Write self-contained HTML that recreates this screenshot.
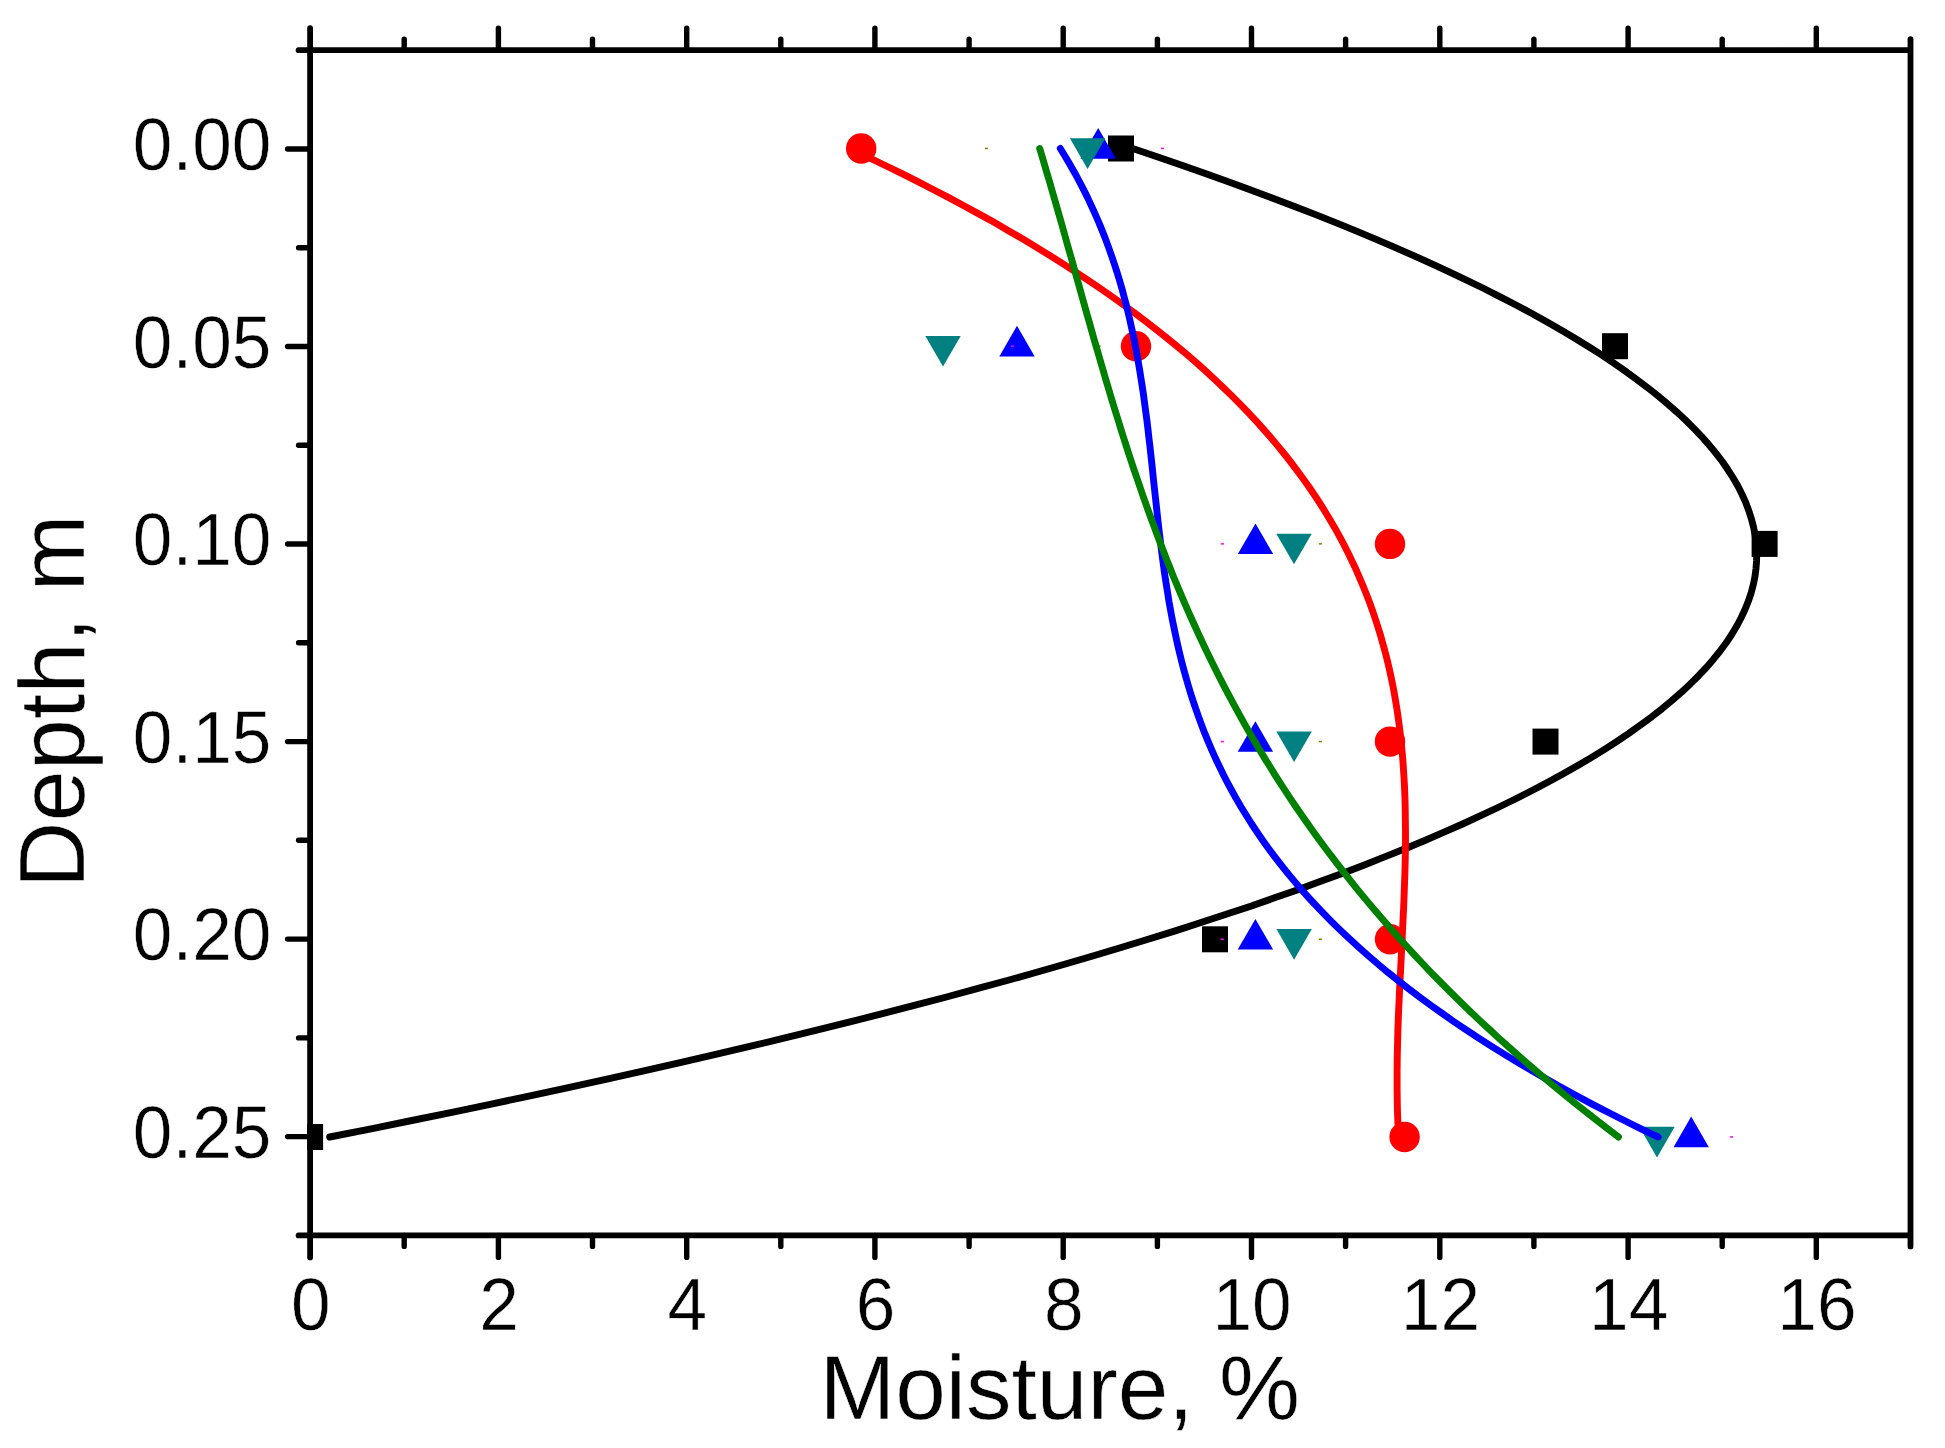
<!DOCTYPE html>
<html lang="en"><head><meta charset="utf-8"><title>Moisture vs Depth</title>
<style>html,body{margin:0;padding:0;background:#fff}svg{display:block}text{font-family:"Liberation Sans",Arial,Helvetica,sans-serif;fill:#000;stroke:#fff;stroke-width:0.5px}</style>
</head><body>
<svg width="1945" height="1448" viewBox="0 0 1945 1448">
<rect width="1945" height="1448" fill="#fff"/>
<defs><clipPath id="plot"><rect x="307.20" y="50.24" width="1606.18" height="1185.15"/></clipPath></defs>
<g id="markers" clip-path="url(#plot)">
<rect x="1161.0" y="147.7" width="3" height="1.5" fill="#ff00ff"/>
<rect x="1010.9" y="345.4" width="3" height="1.5" fill="#ff00ff"/>
<rect x="1220.9" y="543.1" width="3" height="1.5" fill="#ff00ff"/>
<rect x="1220.9" y="740.8" width="3" height="1.5" fill="#ff00ff"/>
<rect x="1220.9" y="938.5" width="3" height="1.5" fill="#ff00ff"/>
<rect x="1730.0" y="1136.2" width="3" height="1.5" fill="#ff00ff"/>
<rect x="984.9" y="147.7" width="3" height="1.5" fill="#808000"/>
<rect x="1097.7" y="345.4" width="3" height="1.5" fill="#808000"/>
<rect x="1318.9" y="543.1" width="3" height="1.5" fill="#808000"/>
<rect x="1318.9" y="740.8" width="3" height="1.5" fill="#808000"/>
<rect x="1318.9" y="938.5" width="3" height="1.5" fill="#808000"/>
<rect x="1108.0" y="135.5" width="26.0" height="26.0" fill="#000"/>
<rect x="1602.0" y="333.2" width="26.0" height="26.0" fill="#000"/>
<rect x="1751.6" y="530.9" width="26.0" height="26.0" fill="#000"/>
<rect x="1532.5" y="728.6" width="26.0" height="26.0" fill="#000"/>
<rect x="1202.0" y="926.3" width="26.0" height="26.0" fill="#000"/>
<rect x="297.1" y="1124.0" width="26.0" height="26.0" fill="#000"/>
<circle cx="861.2" cy="148.5" r="15.2" fill="#ff0000"/>
<circle cx="1136.0" cy="346.2" r="15.2" fill="#ff0000"/>
<circle cx="1390.0" cy="543.9" r="15.2" fill="#ff0000"/>
<circle cx="1390.0" cy="741.6" r="15.2" fill="#ff0000"/>
<circle cx="1390.0" cy="939.3" r="15.2" fill="#ff0000"/>
<circle cx="1404.6" cy="1137.0" r="15.2" fill="#ff0000"/>
<polygon points="1098.2,128.1 1115.9,158.7 1080.5,158.7" fill="#0000ff"/>
<polygon points="1017.0,325.8 1034.7,356.4 999.3,356.4" fill="#0000ff"/>
<polygon points="1255.5,523.5 1273.2,554.1 1237.8,554.1" fill="#0000ff"/>
<polygon points="1255.4,721.2 1273.1,751.8 1237.7,751.8" fill="#0000ff"/>
<polygon points="1255.4,918.9 1273.1,949.5 1237.7,949.5" fill="#0000ff"/>
<polygon points="1691.2,1116.6 1708.9,1147.2 1673.5,1147.2" fill="#0000ff"/>
<polygon points="1087.6,168.9 1105.3,138.3 1069.9,138.3" fill="#008080"/>
<polygon points="943.0,366.6 960.7,336.0 925.3,336.0" fill="#008080"/>
<polygon points="1294.0,564.3 1311.7,533.7 1276.3,533.7" fill="#008080"/>
<polygon points="1294.1,762.0 1311.8,731.4 1276.4,731.4" fill="#008080"/>
<polygon points="1294.1,959.7 1311.8,929.1 1276.4,929.1" fill="#008080"/>
<polygon points="1657.0,1157.4 1674.7,1126.8 1639.3,1126.8" fill="#008080"/>
<rect x="1010.9" y="345.4" width="3" height="1.5" fill="#ff00ff"/>
<rect x="1220.9" y="938.5" width="3" height="1.5" fill="#ff00ff"/>
</g>
<g id="curves" fill="none" stroke-width="6.9" stroke-linecap="round" stroke-linejoin="round">
<polyline points="1132.7,148.5 1157.1,156.7 1181.1,165.0 1204.6,173.2 1227.6,181.4 1250.1,189.7 1272.2,197.9 1293.9,206.2 1315.0,214.4 1335.7,222.6 1355.9,230.9 1375.6,239.1 1394.8,247.4 1413.6,255.6 1431.9,263.8 1449.7,272.1 1467.0,280.3 1483.8,288.5 1500.2,296.8 1516.0,305.0 1531.4,313.2 1546.2,321.5 1560.6,329.7 1574.5,338.0 1587.9,346.2 1600.8,354.4 1613.1,362.7 1625.0,370.9 1636.4,379.2 1647.3,387.4 1657.7,395.6 1667.5,403.9 1676.9,412.1 1685.7,420.3 1694.1,428.6 1701.9,436.8 1709.2,445.1 1716.0,453.3 1722.3,461.5 1728.0,469.8 1733.2,478.0 1738.0,486.2 1742.1,494.5 1745.8,502.7 1748.9,511.0 1751.5,519.2 1753.6,527.4 1755.2,535.7 1756.2,543.9 1756.7,552.1 1756.6,560.4 1756.0,568.6 1754.9,576.9 1753.2,585.1 1751.0,593.3 1748.2,601.6 1744.9,609.8 1741.0,618.0 1736.6,626.3 1731.7,634.5 1726.2,642.8 1720.1,651.0 1713.5,659.2 1706.4,667.5 1698.6,675.7 1690.3,683.9 1681.5,692.2 1672.1,700.4 1662.1,708.7 1651.6,716.9 1640.5,725.1 1628.8,733.4 1616.6,741.6 1603.8,749.8 1590.4,758.1 1576.5,766.3 1561.9,774.6 1546.8,782.8 1531.1,791.0 1514.9,799.3 1498.0,807.5 1480.6,815.7 1462.6,824.0 1444.0,832.2 1424.8,840.5 1405.0,848.7 1384.6,856.9 1363.7,865.2 1342.1,873.4 1320.0,881.6 1297.2,889.9 1273.9,898.1 1249.9,906.4 1225.4,914.6 1200.2,922.8 1174.5,931.1 1148.1,939.3 1121.1,947.5 1093.6,955.8 1065.4,964.0 1036.6,972.3 1007.2,980.5 977.1,988.7 946.5,997.0 915.2,1005.2 883.4,1013.4 850.9,1021.7 817.7,1029.9 784.0,1038.2 749.6,1046.4 714.6,1054.6 679.0,1062.9 642.7,1071.1 605.8,1079.3 568.3,1087.6 530.1,1095.8 491.3,1104.1 451.9,1112.3 411.8,1120.5 371.1,1128.8 329.7,1137.0" stroke="#000"/>
<polyline points="849.5,148.5 867.0,156.7 884.2,165.0 901.0,173.2 917.4,181.4 933.5,189.7 949.3,197.9 964.7,206.2 979.7,214.4 994.5,222.6 1008.8,230.9 1022.9,239.1 1036.6,247.4 1050.0,255.6 1063.1,263.8 1075.8,272.1 1088.3,280.3 1100.4,288.5 1112.2,296.8 1123.7,305.0 1135.0,313.2 1145.9,321.5 1156.5,329.7 1166.9,338.0 1177.0,346.2 1186.8,354.4 1196.3,362.7 1205.5,370.9 1214.5,379.2 1223.2,387.4 1231.6,395.6 1239.8,403.9 1247.8,412.1 1255.5,420.3 1262.9,428.6 1270.1,436.8 1277.1,445.1 1283.8,453.3 1290.3,461.5 1296.6,469.8 1302.6,478.0 1308.5,486.2 1314.1,494.5 1319.5,502.7 1324.7,511.0 1329.7,519.2 1334.5,527.4 1339.1,535.7 1343.5,543.9 1347.7,552.1 1351.7,560.4 1355.6,568.6 1359.2,576.9 1362.7,585.1 1366.0,593.3 1369.2,601.6 1372.2,609.8 1375.0,618.0 1377.7,626.3 1380.3,634.5 1382.6,642.8 1384.9,651.0 1387.0,659.2 1389.0,667.5 1390.8,675.7 1392.5,683.9 1394.1,692.2 1395.5,700.4 1396.9,708.7 1398.1,716.9 1399.2,725.1 1400.2,733.4 1401.1,741.6 1401.9,749.8 1402.7,758.1 1403.3,766.3 1403.8,774.6 1404.3,782.8 1404.7,791.0 1405.0,799.3 1405.2,807.5 1405.3,815.7 1405.4,824.0 1405.5,832.2 1405.5,840.5 1405.4,848.7 1405.3,856.9 1405.1,865.2 1404.9,873.4 1404.6,881.6 1404.3,889.9 1404.0,898.1 1403.7,906.4 1403.3,914.6 1402.9,922.8 1402.5,931.1 1402.1,939.3 1401.7,947.5 1401.3,955.8 1400.9,964.0 1400.5,972.3 1400.0,980.5 1399.6,988.7 1399.3,997.0 1398.9,1005.2 1398.5,1013.4 1398.2,1021.7 1397.9,1029.9 1397.7,1038.2 1397.5,1046.4 1397.3,1054.6 1397.2,1062.9 1397.1,1071.1 1397.1,1079.3 1397.1,1087.6 1397.2,1095.8 1397.3,1104.1 1397.5,1112.3 1397.8,1120.5 1398.2,1128.8 1398.6,1137.0" stroke="#ff0000"/>
<polyline points="1060.3,148.5 1065.4,156.7 1070.2,165.0 1074.9,173.2 1079.3,181.4 1083.6,189.7 1087.7,197.9 1091.6,206.2 1095.3,214.4 1098.9,222.6 1102.3,230.9 1105.5,239.1 1108.6,247.4 1111.5,255.6 1114.3,263.8 1117.0,272.1 1119.5,280.3 1121.9,288.5 1124.1,296.8 1126.3,305.0 1128.3,313.2 1130.2,321.5 1132.0,329.7 1133.8,338.0 1135.4,346.2 1137.0,354.4 1138.4,362.7 1139.8,370.9 1141.1,379.2 1142.4,387.4 1143.6,395.6 1144.7,403.9 1145.8,412.1 1146.9,420.3 1147.9,428.6 1148.8,436.8 1149.8,445.1 1150.7,453.3 1151.6,461.5 1152.5,469.8 1153.3,478.0 1154.2,486.2 1155.1,494.5 1156.0,502.7 1156.9,511.0 1157.8,519.2 1158.7,527.4 1159.7,535.7 1160.7,543.9 1161.7,552.1 1162.8,560.4 1163.9,568.6 1165.1,576.9 1166.4,585.1 1167.7,593.3 1169.0,601.6 1170.5,609.8 1172.0,618.0 1173.7,626.3 1175.4,634.5 1177.2,642.8 1179.1,651.0 1181.1,659.2 1183.2,667.5 1185.5,675.7 1187.8,683.9 1190.3,692.2 1192.9,700.4 1195.7,708.7 1198.6,716.9 1201.6,725.1 1204.8,733.4 1208.2,741.6 1211.7,749.8 1215.4,758.1 1219.3,766.3 1223.3,774.6 1227.6,782.8 1232.0,791.0 1236.6,799.3 1241.4,807.5 1246.5,815.7 1251.7,824.0 1257.1,832.2 1262.8,840.5 1268.7,848.7 1274.8,856.9 1281.2,865.2 1287.8,873.4 1294.7,881.6 1301.8,889.9 1309.1,898.1 1316.8,906.4 1324.7,914.6 1332.8,922.8 1341.3,931.1 1350.0,939.3 1359.0,947.5 1368.3,955.8 1377.9,964.0 1387.8,972.3 1398.1,980.5 1408.6,988.7 1419.5,997.0 1430.7,1005.2 1442.2,1013.4 1454.0,1021.7 1466.2,1029.9 1478.7,1038.2 1491.6,1046.4 1504.9,1054.6 1518.5,1062.9 1532.5,1071.1 1546.8,1079.3 1561.5,1087.6 1576.6,1095.8 1592.1,1104.1 1608.0,1112.3 1624.3,1120.5 1641.0,1128.8 1658.1,1137.0" stroke="#0000ff"/>
<polyline points="1039.7,148.5 1042.2,156.7 1044.6,165.0 1047.0,173.2 1049.5,181.4 1051.8,189.7 1054.2,197.9 1056.6,206.2 1058.9,214.4 1061.3,222.6 1063.6,230.9 1065.9,239.1 1068.2,247.4 1070.6,255.6 1072.9,263.8 1075.2,272.1 1077.5,280.3 1079.8,288.5 1082.1,296.8 1084.4,305.0 1086.7,313.2 1089.1,321.5 1091.4,329.7 1093.7,338.0 1096.1,346.2 1098.5,354.4 1100.9,362.7 1103.3,370.9 1105.7,379.2 1108.2,387.4 1110.6,395.6 1113.1,403.9 1115.6,412.1 1118.2,420.3 1120.7,428.6 1123.3,436.8 1126.0,445.1 1128.6,453.3 1131.3,461.5 1134.1,469.8 1136.9,478.0 1139.7,486.2 1142.5,494.5 1145.4,502.7 1148.4,511.0 1151.3,519.2 1154.4,527.4 1157.5,535.7 1160.6,543.9 1163.8,552.1 1167.0,560.4 1170.3,568.6 1173.6,576.9 1177.0,585.1 1180.5,593.3 1184.0,601.6 1187.6,609.8 1191.2,618.0 1195.0,626.3 1198.7,634.5 1202.6,642.8 1206.5,651.0 1210.5,659.2 1214.6,667.5 1218.7,675.7 1222.9,683.9 1227.2,692.2 1231.6,700.4 1236.1,708.7 1240.6,716.9 1245.2,725.1 1249.9,733.4 1254.7,741.6 1259.6,749.8 1264.6,758.1 1269.7,766.3 1274.8,774.6 1280.1,782.8 1285.4,791.0 1290.9,799.3 1296.4,807.5 1302.1,815.7 1307.9,824.0 1313.7,832.2 1319.7,840.5 1325.8,848.7 1332.0,856.9 1338.3,865.2 1344.7,873.4 1351.2,881.6 1357.8,889.9 1364.6,898.1 1371.5,906.4 1378.5,914.6 1385.6,922.8 1392.8,931.1 1400.2,939.3 1407.7,947.5 1415.3,955.8 1423.0,964.0 1430.9,972.3 1438.9,980.5 1447.1,988.7 1455.4,997.0 1463.8,1005.2 1472.3,1013.4 1481.0,1021.7 1489.9,1029.9 1498.9,1038.2 1508.0,1046.4 1517.3,1054.6 1526.7,1062.9 1536.3,1071.1 1546.0,1079.3 1555.9,1087.6 1565.9,1095.8 1576.1,1104.1 1586.5,1112.3 1597.0,1120.5 1607.7,1128.8 1618.5,1137.0" stroke="#008000"/>
</g>
<g id="axes" stroke="#000" stroke-linecap="round" fill="none">
<g stroke-width="5.4">
<line x1="404.2" y1="50.2" x2="404.2" y2="39.2"/>
<line x1="404.2" y1="1235.4" x2="404.2" y2="1246.4"/>
<line x1="498.4" y1="50.2" x2="498.4" y2="28.2"/>
<line x1="498.4" y1="1235.4" x2="498.4" y2="1257.4"/>
<line x1="592.5" y1="50.2" x2="592.5" y2="39.2"/>
<line x1="592.5" y1="1235.4" x2="592.5" y2="1246.4"/>
<line x1="686.7" y1="50.2" x2="686.7" y2="28.2"/>
<line x1="686.7" y1="1235.4" x2="686.7" y2="1257.4"/>
<line x1="780.8" y1="50.2" x2="780.8" y2="39.2"/>
<line x1="780.8" y1="1235.4" x2="780.8" y2="1246.4"/>
<line x1="874.9" y1="50.2" x2="874.9" y2="28.2"/>
<line x1="874.9" y1="1235.4" x2="874.9" y2="1257.4"/>
<line x1="969.1" y1="50.2" x2="969.1" y2="39.2"/>
<line x1="969.1" y1="1235.4" x2="969.1" y2="1246.4"/>
<line x1="1063.2" y1="50.2" x2="1063.2" y2="28.2"/>
<line x1="1063.2" y1="1235.4" x2="1063.2" y2="1257.4"/>
<line x1="1157.4" y1="50.2" x2="1157.4" y2="39.2"/>
<line x1="1157.4" y1="1235.4" x2="1157.4" y2="1246.4"/>
<line x1="1251.5" y1="50.2" x2="1251.5" y2="28.2"/>
<line x1="1251.5" y1="1235.4" x2="1251.5" y2="1257.4"/>
<line x1="1345.6" y1="50.2" x2="1345.6" y2="39.2"/>
<line x1="1345.6" y1="1235.4" x2="1345.6" y2="1246.4"/>
<line x1="1439.8" y1="50.2" x2="1439.8" y2="28.2"/>
<line x1="1439.8" y1="1235.4" x2="1439.8" y2="1257.4"/>
<line x1="1533.9" y1="50.2" x2="1533.9" y2="39.2"/>
<line x1="1533.9" y1="1235.4" x2="1533.9" y2="1246.4"/>
<line x1="1628.1" y1="50.2" x2="1628.1" y2="28.2"/>
<line x1="1628.1" y1="1235.4" x2="1628.1" y2="1257.4"/>
<line x1="1722.2" y1="50.2" x2="1722.2" y2="39.2"/>
<line x1="1722.2" y1="1235.4" x2="1722.2" y2="1246.4"/>
<line x1="1816.3" y1="50.2" x2="1816.3" y2="28.2"/>
<line x1="1816.3" y1="1235.4" x2="1816.3" y2="1257.4"/>
<line x1="310.1" y1="149.0" x2="287.6" y2="149.0"/>
<line x1="310.1" y1="247.8" x2="298.6" y2="247.8"/>
<line x1="310.1" y1="346.5" x2="287.6" y2="346.5"/>
<line x1="310.1" y1="445.3" x2="298.6" y2="445.3"/>
<line x1="310.1" y1="544.0" x2="287.6" y2="544.0"/>
<line x1="310.1" y1="642.8" x2="298.6" y2="642.8"/>
<line x1="310.1" y1="741.6" x2="287.6" y2="741.6"/>
<line x1="310.1" y1="840.3" x2="298.6" y2="840.3"/>
<line x1="310.1" y1="939.1" x2="287.6" y2="939.1"/>
<line x1="310.1" y1="1037.9" x2="298.6" y2="1037.9"/>
<line x1="310.1" y1="1136.6" x2="287.6" y2="1136.6"/>
</g>
<g stroke-width="5.8">
<line x1="310.1" y1="28.2" x2="310.1" y2="1257.4"/>
<line x1="1910.5" y1="39.2" x2="1910.5" y2="1246.4"/>
<line x1="298.6" y1="50.2" x2="1908.5" y2="50.2"/>
<line x1="298.6" y1="1235.4" x2="1908.5" y2="1235.4"/>
</g></g>
<g id="ticklabels" font-size="72.3">
<text transform="translate(271.4 170.3) scale(0.985 1.0175)" text-anchor="end">0.00</text>
<text transform="translate(271.4 367.8) scale(0.985 1.0175)" text-anchor="end">0.05</text>
<text transform="translate(271.4 565.3) scale(0.985 1.0175)" text-anchor="end">0.10</text>
<text transform="translate(271.4 762.9) scale(0.985 1.0175)" text-anchor="end">0.15</text>
<text transform="translate(271.4 960.4) scale(0.985 1.0175)" text-anchor="end">0.20</text>
<text transform="translate(271.4 1157.9) scale(0.985 1.0175)" text-anchor="end">0.25</text>
<text transform="translate(310.7 1330.1) scale(0.985 1.0175)" text-anchor="middle">0</text>
<text transform="translate(499.0 1330.1) scale(0.985 1.0175)" text-anchor="middle">2</text>
<text transform="translate(687.3 1330.1) scale(0.985 1.0175)" text-anchor="middle">4</text>
<text transform="translate(875.5 1330.1) scale(0.985 1.0175)" text-anchor="middle">6</text>
<text transform="translate(1063.8 1330.1) scale(0.985 1.0175)" text-anchor="middle">8</text>
<text transform="translate(1252.1 1330.1) scale(0.985 1.0175)" text-anchor="middle">10</text>
<text transform="translate(1440.4 1330.1) scale(0.985 1.0175)" text-anchor="middle">12</text>
<text transform="translate(1628.7 1330.1) scale(0.985 1.0175)" text-anchor="middle">14</text>
<text transform="translate(1816.9 1330.1) scale(0.985 1.0175)" text-anchor="middle">16</text>
</g>
<g id="axislabels">
<text transform="translate(819.4 1418.5)" font-size="91">Moisture, %</text>
<text transform="translate(83.7 887.9) rotate(-90)" font-size="92">Depth, m</text>
</g>
</svg></body></html>
